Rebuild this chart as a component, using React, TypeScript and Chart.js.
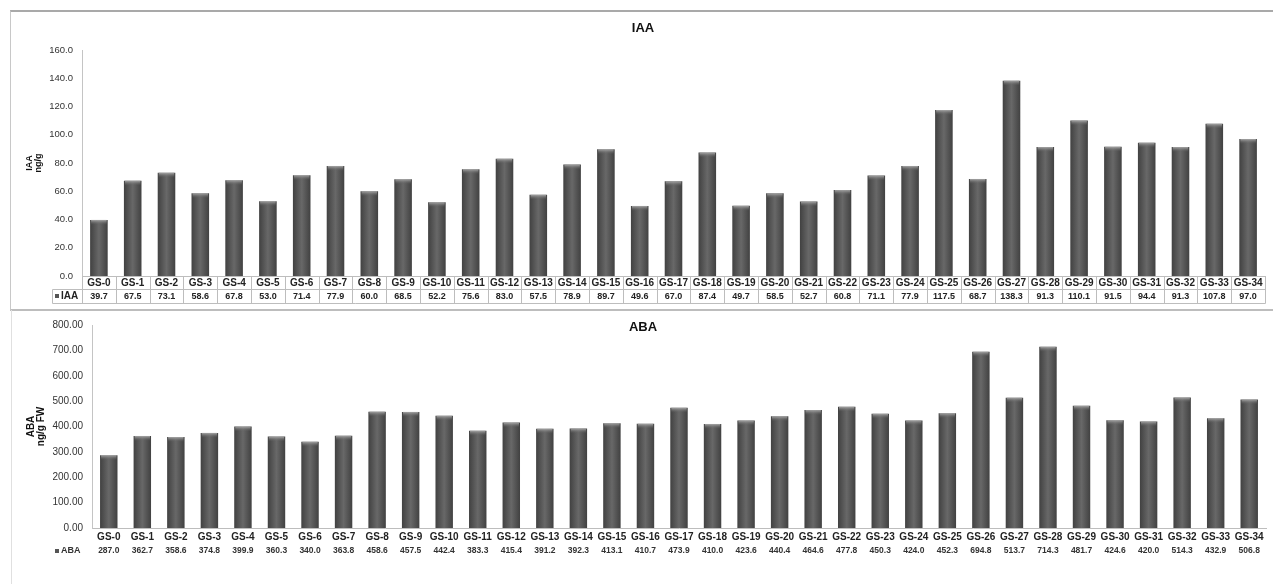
import React, { useEffect, useRef } from 'react';
import { Chart, registerables } from 'chart.js';

Chart.register(...registerables);

const categories = [
  'GS-0', 'GS-1', 'GS-2', 'GS-3', 'GS-4', 'GS-5', 'GS-6', 'GS-7', 'GS-8', 'GS-9',
  'GS-10', 'GS-11', 'GS-12', 'GS-13', 'GS-14', 'GS-15', 'GS-16', 'GS-17', 'GS-18', 'GS-19',
  'GS-20', 'GS-21', 'GS-22', 'GS-23', 'GS-24', 'GS-25', 'GS-26', 'GS-27', 'GS-28', 'GS-29',
  'GS-30', 'GS-31', 'GS-32', 'GS-33', 'GS-34',
];

const iaaValues = [
  39.7, 67.5, 73.1, 58.6, 67.8, 53.0, 71.4, 77.9, 60.0, 68.5,
  52.2, 75.6, 83.0, 57.5, 78.9, 89.7, 49.6, 67.0, 87.4, 49.7,
  58.5, 52.7, 60.8, 71.1, 77.9, 117.5, 68.7, 138.3, 91.3, 110.1,
  91.5, 94.4, 91.3, 107.8, 97.0,
];

const abaValues = [
  287.0, 362.7, 358.6, 374.8, 399.9, 360.3, 340.0, 363.8, 458.6, 457.5,
  442.4, 383.3, 415.4, 391.2, 392.3, 413.1, 410.7, 473.9, 410.0, 423.6,
  440.4, 464.6, 477.8, 450.3, 424.0, 452.3, 694.8, 513.7, 714.3, 481.7,
  424.6, 420.0, 514.3, 432.9, 506.8,
];

const iaaAxis = { min: 0, max: 160, step: 20, decimals: 1 };
const abaAxis = { min: 0, max: 800, step: 100, decimals: 2 };

const FONT = '"Liberation Sans", Arial, sans-serif';
const BAR_PCT = 0.52;

function barFill(ctx: any) {
  const chart = ctx.chart;
  const xs = chart.scales && chart.scales.x;
  if (!chart.chartArea || !xs || ctx.type !== 'data') return '#595959';
  const cx = xs.getPixelForValue(ctx.dataIndex);
  const w = (xs.width / categories.length) * BAR_PCT;
  const g = chart.ctx.createLinearGradient(cx - w / 2, 0, cx + w / 2, 0);
  g.addColorStop(0, '#414141');
  g.addColorStop(0.5, '#686868');
  g.addColorStop(1, '#414141');
  return g;
}

const capPlugin = {
  id: 'barCap',
  afterDatasetsDraw(chart: any) {
    const ctx = chart.ctx;
    const meta = chart.getDatasetMeta(0);
    ctx.save();
    meta.data.forEach((bar: any) => {
      const { x, y, width } = bar.getProps(['x', 'y', 'width'], true);
      const g = ctx.createLinearGradient(0, y, 0, y + 5);
      g.addColorStop(0, '#a8a8a8');
      g.addColorStop(1, 'rgba(95,95,95,0)');
      ctx.fillStyle = g;
      ctx.fillRect(x - width / 2 + 1, y, width - 2, 5);
    });
    ctx.restore();
  },
};

function titlePlugin(text: string, x: number, y: number) {
  return {
    id: 'customTitle',
    afterDraw(chart: any) {
      const ctx = chart.ctx;
      ctx.save();
      ctx.font = `bold 13px ${FONT}`;
      ctx.fillStyle = '#111';
      ctx.textAlign = 'center';
      ctx.textBaseline = 'middle';
      ctx.fillText(text, x, y);
      ctx.restore();
    },
  };
}

const iaaTablePlugin = {
  id: 'iaaTable',
  afterDraw(chart: any) {
    const { ctx, chartArea: a, scales } = chart;
    const xs = scales.x;
    const n = iaaValues.length;
    const cellW = (a.right - a.left) / n;
    const r0 = a.bottom;
    const r1 = a.bottom + 13;
    const r2 = a.bottom + 27;
    const tableLeft = 52;
    ctx.save();
    ctx.strokeStyle = '#bdbdbd';
    ctx.lineWidth = 1;
    const line = (x1: number, y1: number, x2: number, y2: number) => {
      ctx.beginPath();
      ctx.moveTo(Math.round(x1) + 0.5, Math.round(y1) + 0.5);
      ctx.lineTo(Math.round(x2) + 0.5, Math.round(y2) + 0.5);
      ctx.stroke();
    };
    line(tableLeft, r1, a.right, r1);
    line(tableLeft, r2, a.right, r2);
    line(tableLeft, r1, tableLeft, r2);
    for (let i = 0; i <= n; i++) {
      const x = a.left + i * cellW;
      line(x, r0, x, r2);
    }
    const mid = (r1 + r2) / 2;
    ctx.font = `bold 9px ${FONT}`;
    ctx.fillStyle = '#222';
    ctx.textAlign = 'center';
    ctx.textBaseline = 'middle';
    iaaValues.forEach((v, i) => {
      ctx.fillText(v.toFixed(1), xs.getPixelForValue(i), mid + 0.5);
    });
    ctx.fillStyle = '#555';
    ctx.fillRect(tableLeft + 3, mid - 2, 4, 4);
    ctx.fillStyle = '#222';
    ctx.textAlign = 'left';
    ctx.font = `bold 10px ${FONT}`;
    ctx.fillText('IAA', tableLeft + 9, mid + 0.5);
    ctx.restore();
  },
};

const abaRowPlugin = {
  id: 'abaRow',
  afterDraw(chart: any) {
    const { ctx, chartArea: a, scales } = chart;
    const xs = scales.x;
    const y = a.bottom + 23;
    ctx.save();
    ctx.font = `bold 8.5px ${FONT}`;
    ctx.fillStyle = '#333';
    ctx.textAlign = 'center';
    ctx.textBaseline = 'middle';
    abaValues.forEach((v, i) => {
      ctx.fillText(v.toFixed(1), xs.getPixelForValue(i), y);
    });
    ctx.fillStyle = '#555';
    ctx.fillRect(55, y - 2, 4, 4);
    ctx.fillStyle = '#333';
    ctx.textAlign = 'left';
    ctx.font = `bold 9px ${FONT}`;
    ctx.fillText('ABA', 61, y);
    ctx.restore();
  },
};

function makeConfig(opts: {
  values: number[];
  axis: { min: number; max: number; step: number; decimals: number };
  yWidth: number;
  xHeight: number;
  padTop: number;
  padRight: number;
  yTitle: string[];
  yTitleFont: number;
  yTitlePad: number;
  tickFont: number;
  xTickPad: number;
  plugins: any[];
}) {
  return {
    type: 'bar' as const,
    data: {
      labels: categories,
      datasets: [
        {
          data: opts.values,
          backgroundColor: barFill,
          borderWidth: 0,
          barPercentage: BAR_PCT,
          categoryPercentage: 1,
        },
      ],
    },
    options: {
      animation: false as const,
      responsive: false,
      maintainAspectRatio: false,
      layout: { padding: { top: opts.padTop, right: opts.padRight, left: 0, bottom: 0 } },
      plugins: { legend: { display: false }, tooltip: { enabled: false }, title: { display: false } },
      scales: {
        x: {
          grid: { display: false, drawTicks: false },
          border: { display: true, color: '#bdbdbd', width: 1 },
          ticks: {
            color: '#222',
            font: { family: FONT, size: 10, weight: 'bold' as const },
            padding: opts.xTickPad,
            maxRotation: 0,
            autoSkip: false,
          },
          afterFit: (s: any) => {
            s.height = opts.xHeight;
          },
        },
        y: {
          min: opts.axis.min,
          max: opts.axis.max,
          grid: { display: false, drawTicks: false },
          border: { display: true, color: '#c4c4c4', width: 1 },
          ticks: {
            stepSize: opts.axis.step,
            padding: 9,
            color: '#333',
            font: { family: FONT, size: opts.tickFont },
            callback: (v: any) => Number(v).toFixed(opts.axis.decimals),
          },
          title: {
            display: true,
            text: opts.yTitle,
            color: '#111',
            font: { family: FONT, size: opts.yTitleFont, weight: 'bold' as const, lineHeight: 1 },
            padding: { top: opts.yTitlePad, bottom: 0 },
          },
          afterFit: (s: any) => {
            s.width = opts.yWidth;
          },
        },
      },
    },
    plugins: opts.plugins,
  };
}

export default function App() {
  const iaaRef = useRef<HTMLCanvasElement>(null);
  const abaRef = useRef<HTMLCanvasElement>(null);

  useEffect(() => {
    const c1 = new Chart(
      iaaRef.current as HTMLCanvasElement,
      makeConfig({
        values: iaaValues,
        axis: iaaAxis,
        yWidth: 82,
        xHeight: 34,
        padTop: 50,
        padRight: 8,
        yTitle: ['IAA', 'ng/g'],
        yTitleFont: 9,
        yTitlePad: 25,
        tickFont: 9.5,
        xTickPad: 1,
        plugins: [capPlugin, iaaTablePlugin, titlePlugin('IAA', 643, 28)],
      }) as any
    );
    const c2 = new Chart(
      abaRef.current as HTMLCanvasElement,
      makeConfig({
        values: abaValues,
        axis: abaAxis,
        yWidth: 92,
        xHeight: 56,
        padTop: 11,
        padRight: 7,
        yTitle: ['ABA', 'ng/g FW'],
        yTitleFont: 10,
        yTitlePad: 26,
        tickFont: 10,
        xTickPad: 3,
        plugins: [capPlugin, abaRowPlugin, titlePlugin('ABA', 643, 17)],
      }) as any
    );
    return () => {
      c1.destroy();
      c2.destroy();
    };
  }, []);

  return (
    <div style={{ position: 'absolute', left: 0, top: 0, width: 1273, height: 584, background: '#fff', overflow: 'hidden' }}>
      <canvas ref={iaaRef} width={1273} height={310} style={{ position: 'absolute', left: 0, top: 0, width: 1273, height: 310 }} />
      <canvas ref={abaRef} width={1273} height={274} style={{ position: 'absolute', left: 0, top: 310, width: 1273, height: 274 }} />
      <div style={{ position: 'absolute', left: 10, top: 10, width: 1300, height: 297, borderTop: '2px solid #a9a9a9', borderLeft: '1px solid #c8c8c8', borderBottom: '2px solid #bdbdbd', pointerEvents: 'none' }} />
      <div style={{ position: 'absolute', left: 11, top: 310, width: 0, height: 274, borderLeft: '1px solid #e0e0e0', pointerEvents: 'none' }} />
    </div>
  );
}
